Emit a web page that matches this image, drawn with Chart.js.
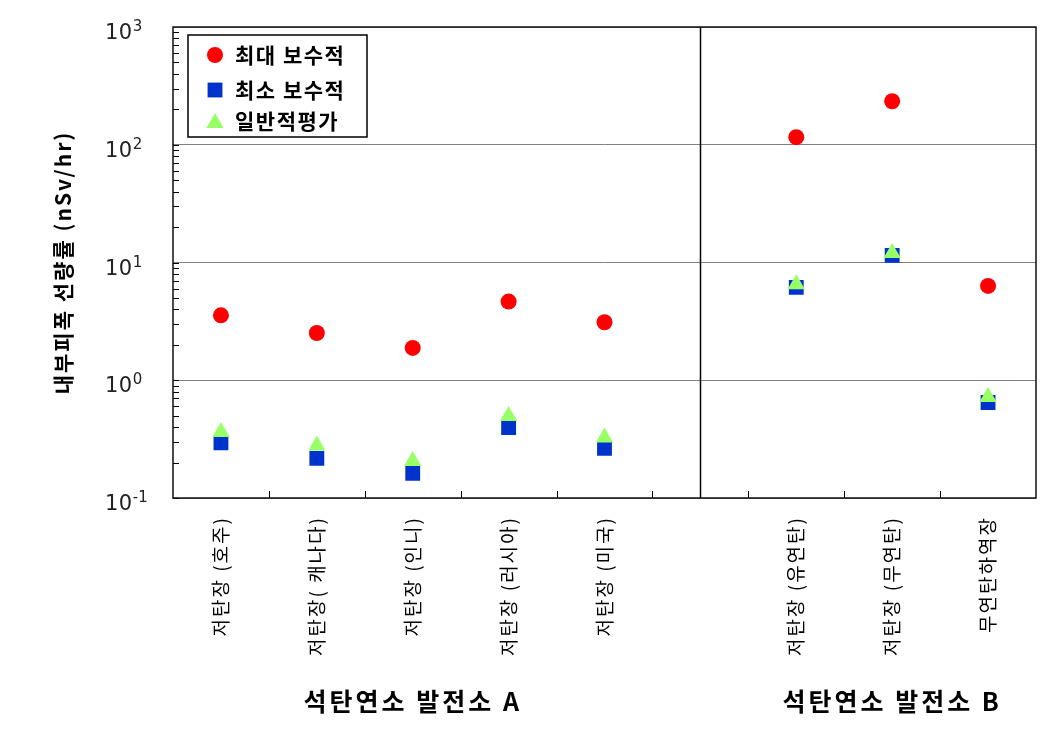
<!DOCTYPE html>
<html>
<head>
<meta charset="utf-8">
<script src="https://cdn.jsdelivr.net/npm/chart.js@4.4.0/dist/chart.umd.min.js"></script>
<style>
  html, body { margin: 0; padding: 0; background: #fff; }
  #wrap { width: 1063px; height: 742px; }
</style>
</head>
<body>
<div id="wrap"><canvas id="c" width="1063" height="742"></canvas></div>
<script>
// ---- data ----
const categories = ['저탄장 (호주)', '저탄장( 캐나다)', '저탄장 (인니)', '저탄장 (러시아)', '저탄장 (미국)', '', '저탄장 (유연탄)', '저탄장 (무연탄)', '무연탄하역장'];
const maxConservative = [3.56, 2.52, 1.88, 4.66, 3.11, null, 116, 234, 6.32];
const minConservative = [0.294, 0.217, 0.162, 0.397, 0.264, null, 6.14, 11.5, 0.647];
const generalAssessment = [0.364, 0.279, 0.206, 0.497, 0.326, null, 6.54, 12.05, 0.72];
const seriesNames = ['최대 보수적', '최소 보수적', '일반적평가'];
const yTickValues = [0.1, 1, 10, 100, 1000];
const yTickBase = '10';
const yTickExponents = ['-1', '0', '1', '2', '3'];
const yTitle = '내부피폭 선량률 (nSv/hr)';
const groupLabels = ['석탄연소 발전소 A', '석탄연소 발전소 B'];
const groupFirst = [0, 6];
const groupLast = [4, 8];
const separatorIndex = 5;

const KR = '"Noto Sans CJK KR", "Noto Sans", sans-serif';

const decorPlugin = {
  id: 'decor',
  beforeDraw(chart) {
    // wider glyph spacing for the library-drawn texts (x labels, y title)
    chart.ctx.letterSpacing = '2px';
  },
  beforeDatasetsDraw(chart) {
    const ctx = chart.ctx;
    const a = chart.chartArea;
    const x = chart.scales.x, y = chart.scales.y;
    ctx.save();
    ctx.strokeStyle = '#000';
    ctx.lineWidth = 1;
    // minor log ticks on left axis (inward)
    for (let d = 0; d < yTickValues.length - 1; d++) {
      for (let m = 1; m <= 9; m++) {
        const py = Math.round(y.getPixelForValue(yTickValues[d] * m)) + 0.5;
        ctx.beginPath();
        ctx.moveTo(a.left, py);
        ctx.lineTo(a.left + 6, py);
        ctx.stroke();
      }
    }
    // category boundary ticks on bottom axis (inward)
    for (let i = 1; i < categories.length; i++) {
      const px = Math.round((x.getPixelForValue(i - 1) + x.getPixelForValue(i)) / 2) + 0.5;
      ctx.beginPath();
      ctx.moveTo(px, a.bottom);
      ctx.lineTo(px, a.bottom - 7);
      ctx.stroke();
    }
    // group separator
    const sx = Math.round(x.getPixelForValue(separatorIndex)) + 0.5;
    ctx.lineWidth = 1.5;
    ctx.beginPath();
    ctx.moveTo(sx, a.top);
    ctx.lineTo(sx, a.bottom);
    ctx.stroke();
    // plot frame
    ctx.strokeStyle = '#111';
    ctx.strokeRect(a.left, a.top, a.right - a.left, a.bottom - a.top);
    ctx.restore();
  },
  afterDraw(chart) {
    const ctx = chart.ctx;
    const a = chart.chartArea;
    const x = chart.scales.x, y = chart.scales.y;
    ctx.save();
    // y tick labels: 10 with superscript exponent
    ctx.fillStyle = '#222';
    ctx.textAlign = 'left';
    ctx.textBaseline = 'alphabetic';
    yTickValues.forEach((v, i) => {
      const py = y.getPixelForValue(v);
      ctx.letterSpacing = '0.5px';
      ctx.font = '21px "DejaVu Sans", sans-serif';
      ctx.fillText(yTickBase, 105, py + 12);
      const w = ctx.measureText(yTickBase).width;
      ctx.letterSpacing = '0px';
      ctx.font = '15px "DejaVu Sans", sans-serif';
      ctx.fillText(yTickExponents[i], 105 + w, py + 4);
    });
    // group labels
    ctx.fillStyle = '#000';
    ctx.letterSpacing = '3px';
    ctx.font = 'bold 25px ' + KR;
    ctx.textAlign = 'center';
    ctx.textBaseline = 'middle';
    groupLabels.forEach((g, i) => {
      const cx = (x.getPixelForValue(groupFirst[i]) + x.getPixelForValue(groupLast[i])) / 2;
      ctx.fillText(g, cx, 701);
    });
    // legend box
    const bx = a.left + 15, by = a.top + 8, bw = 179, bh = 102;
    ctx.fillStyle = '#fff';
    ctx.fillRect(bx, by, bw, bh);
    ctx.strokeStyle = '#000';
    ctx.lineWidth = 1.5;
    ctx.strokeRect(bx, by, bw, bh);
    const rows = [by + 20, by + 55, by + 86];
    chart.data.datasets.forEach((ds, i) => {
      ctx.fillStyle = ds.pointBackgroundColor;
      ctx.strokeStyle = ds.pointBackgroundColor;
      Chart.helpers.drawPoint(ctx, {pointStyle: ds.pointStyle, radius: ds.pointRadius, rotation: 0, borderWidth: 0}, bx + 27, rows[i] + (ds.pointStyle === 'triangle' ? 2 : 0));
      ctx.fillStyle = '#000';
      ctx.letterSpacing = '1.5px';
      ctx.font = 'bold 21px ' + KR;
      ctx.textAlign = 'left';
      ctx.textBaseline = 'middle';
      ctx.fillText(ds.label, bx + 47, rows[i]);
    });
    ctx.restore();
  }
};

new Chart(document.getElementById('c'), {
  type: 'line',
  data: {
    labels: categories,
    datasets: [
      { label: seriesNames[0], data: maxConservative, showLine: false, pointStyle: 'circle', pointRadius: 8, pointHoverRadius: 8, pointBackgroundColor: '#ff0000', pointBorderWidth: 0, order: 2 },
      { label: seriesNames[1], data: minConservative, showLine: false, pointStyle: 'rect', pointRadius: 10.5, pointHoverRadius: 10.5, pointBackgroundColor: '#0033cc', pointBorderWidth: 0, order: 1 },
      { label: seriesNames[2], data: generalAssessment, showLine: false, pointStyle: 'triangle', pointRadius: 10, pointHoverRadius: 10, pointBackgroundColor: '#99ff66', pointBorderWidth: 0, order: 0 }
    ]
  },
  options: {
    responsive: false,
    animation: false,
    devicePixelRatio: 1,
    layout: { padding: { top: 27, right: 27, left: 0, bottom: 0 } },
    plugins: { legend: { display: false }, tooltip: { enabled: false } },
    scales: {
      x: {
        type: 'category',
        offset: true,
        grid: { display: false },
        border: { display: false },
        ticks: { autoSkip: false, maxRotation: 90, minRotation: 90, padding: 10, color: '#000', font: { family: KR, size: 19 } },
        afterFit(s) { s.height = 244; }
      },
      y: {
        type: 'logarithmic',
        min: 0.1,
        max: 1000,
        afterBuildTicks(s) { s.ticks = yTickValues.map(v => ({ value: v })); },
        ticks: { display: false },
        grid: { color: '#808080', lineWidth: 1, drawTicks: false },
        border: { display: false },
        title: { display: true, text: yTitle, color: '#000', font: { family: KR, size: 21, weight: 'bold' }, padding: { top: 50, bottom: 0 } },
        afterFit(s) { s.width = 173; }
      }
    }
  },
  plugins: [decorPlugin]
});
</script>
</body>
</html>
